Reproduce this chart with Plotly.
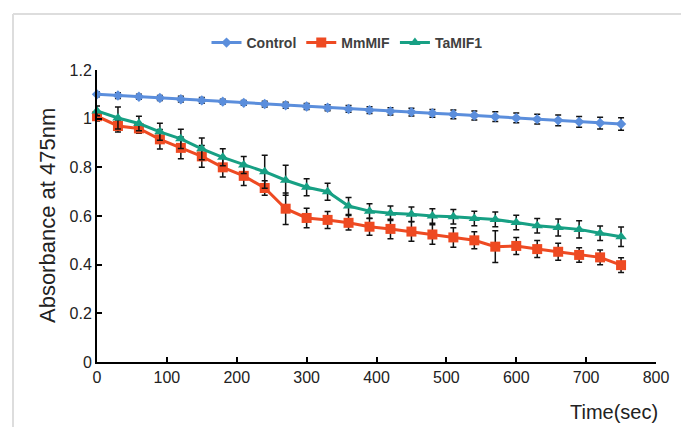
import plotly.graph_objects as go

time_sec = [0, 30, 60, 90, 120, 150, 180, 210, 240, 270, 300, 330, 360,
            390, 420, 450, 480, 510, 540, 570, 600, 630, 660, 690, 720, 750]

control = [1.10, 1.095, 1.09, 1.085, 1.08, 1.075, 1.07, 1.065, 1.06, 1.055,
           1.05, 1.045, 1.04, 1.035, 1.03, 1.027, 1.022, 1.018, 1.013, 1.008,
           1.003, 0.998, 0.993, 0.987, 0.982, 0.978]
control_err = [0.01, 0.012, 0.01, 0.01, 0.012, 0.012, 0.01, 0.01, 0.012, 0.012,
               0.012, 0.012, 0.014, 0.014, 0.015, 0.016, 0.016, 0.018, 0.018, 0.02,
               0.02, 0.02, 0.022, 0.022, 0.024, 0.026]

mmmif = [1.01, 0.97, 0.96, 0.915, 0.88, 0.845, 0.80, 0.765, 0.715, 0.63,
         0.592, 0.584, 0.572, 0.556, 0.547, 0.536, 0.524, 0.512, 0.50, 0.474,
         0.477, 0.464, 0.453, 0.44, 0.43, 0.398]
mmmif_err = [0.02, 0.025, 0.02, 0.04, 0.045, 0.045, 0.04, 0.04, 0.03, 0.065,
             0.04, 0.035, 0.03, 0.035, 0.04, 0.04, 0.04, 0.04, 0.035, 0.065,
             0.035, 0.035, 0.035, 0.03, 0.03, 0.03]

tamif1 = [1.032, 1.003, 0.98, 0.946, 0.917, 0.876, 0.841, 0.81, 0.782, 0.747,
          0.718, 0.70, 0.641, 0.62, 0.611, 0.607, 0.60, 0.597, 0.59, 0.586,
          0.573, 0.56, 0.553, 0.545, 0.529, 0.515]
tamif1_err = [0.02, 0.045, 0.03, 0.035, 0.04, 0.045, 0.035, 0.035, 0.068, 0.062,
              0.035, 0.035, 0.035, 0.03, 0.03, 0.03, 0.03, 0.03, 0.03, 0.03,
              0.03, 0.03, 0.035, 0.035, 0.03, 0.04]

y_ticks = [0, 0.2, 0.4, 0.6, 0.8, 1.0, 1.2]
y_tick_labels = ["0", "0.2", "0.4", "0.6", "0.8", "1", "1.2"]
x_ticks = [0, 100, 200, 300, 400, 500, 600, 700, 800]

FONT = "Liberation Sans, Arial, sans-serif"

series = [
    ("Control", control, control_err, "#5B8EDC", "diamond", 8),
    ("MmMIF", mmmif, mmmif_err, "#EE4A22", "square", 10),
    ("TaMIF1", tamif1, tamif1_err, "#17A084", "triangle-up", 10),
]

fig = go.Figure()
for name, vals, errs, color, sym, size in series:
    fig.add_trace(go.Scatter(
        x=time_sec, y=vals, name=name, mode="lines+markers",
        line=dict(color=color, width=3),
        marker=dict(symbol=sym, size=size, color=color),
        error_y=dict(type="data", array=errs, visible=True,
                     color="#111111", thickness=1.5, width=3),
        cliponaxis=False,
    ))

# page body has an 8px default margin, so the figure is drawn 8px smaller/offset
fig.update_layout(
    width=681, height=419,
    margin=dict(l=89, r=33, t=62, b=65, autoexpand=False),
    paper_bgcolor="white", plot_bgcolor="white",
    font=dict(family=FONT, size=16, color="#222222"),
    showlegend=True,
    legend=dict(orientation="h", xref="container", yref="container",
                x=0.4978, xanchor="center", y=0.9165, yanchor="middle",
                font=dict(family=FONT, size=14, color="#404040", weight="bold"),
                bgcolor="rgba(0,0,0,0)"),
    xaxis=dict(range=[0, 800], tickvals=x_ticks, ticks="inside", ticklen=5, tickwidth=2,
               tickcolor="black", showline=True, linecolor="black", linewidth=2,
               showgrid=False, zeroline=False, fixedrange=True, automargin=False,
               tickfont=dict(size=16, family=FONT, color="#222222")),
    yaxis=dict(range=[0, 1.2], tickvals=y_ticks, ticktext=y_tick_labels, ticks="inside",
               ticklen=5, tickwidth=2, tickcolor="black", showline=True, linecolor="black",
               linewidth=2, showgrid=False, zeroline=False, fixedrange=True, automargin=False,
               tickfont=dict(size=16, family=FONT, color="#222222")),
    annotations=[
        dict(text="Absorbance at 475nm", xref="paper", yref="paper", x=-0.0894, y=0.5,
             xanchor="center", yanchor="middle", textangle=-90, showarrow=False,
             font=dict(size=22, family=FONT, color="#222222")),
        dict(text="Time(sec)", xref="paper", yref="paper", x=1.007, y=-0.171,
             xanchor="right", yanchor="middle", showarrow=False,
             font=dict(size=20, family=FONT, color="#222222")),
    ],
    shapes=[
        dict(type="line", xref="paper", yref="paper", x0=-0.1503, x1=-0.1503,
             y0=1.1918, y1=-0.25, line=dict(color="#DDDDDD", width=2)),
        dict(type="line", xref="paper", yref="paper", x0=-0.1503, x1=1.1,
             y0=1.1918, y1=1.1918, line=dict(color="#DDDDDD", width=2)),
    ],
)

fig.write_html("out.html")
